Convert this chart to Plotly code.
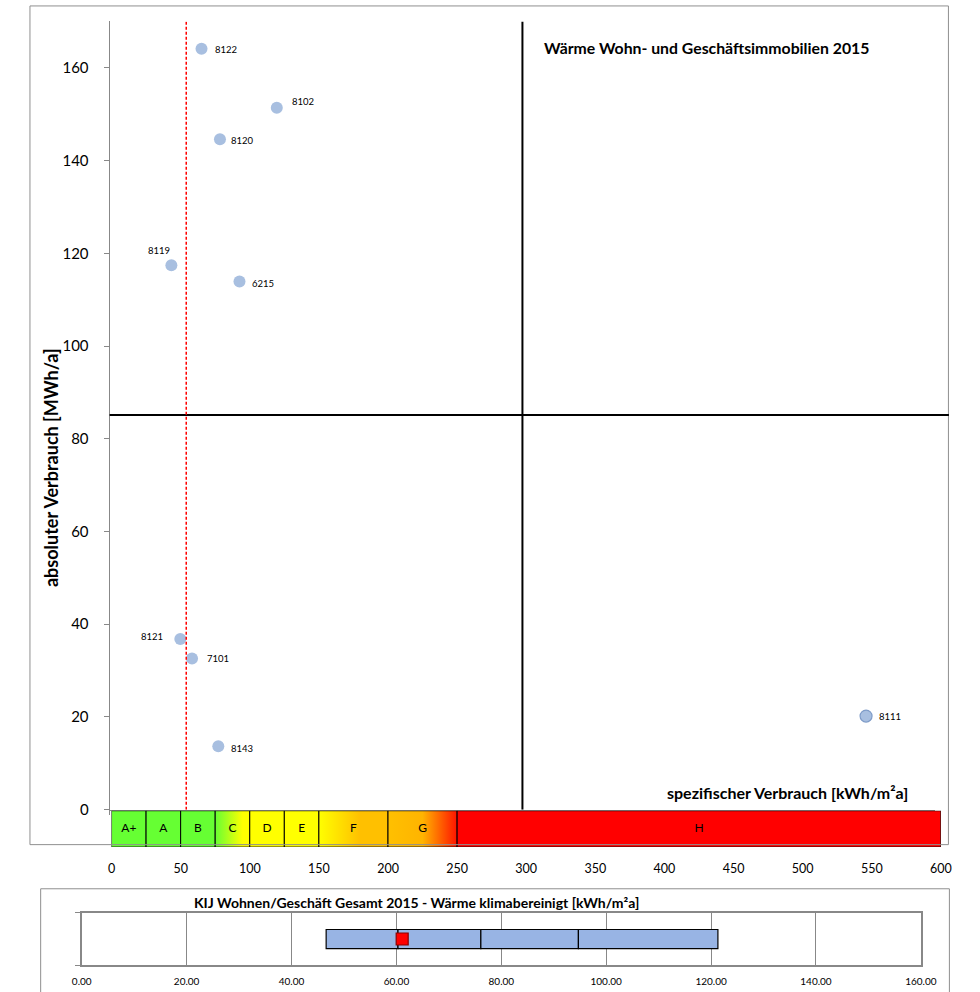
import plotly.graph_objects as go

# Gebäude: spezifischer Verbrauch [kWh/m²a] und absoluter Verbrauch [MWh/a]
ids = ["8122", "8102", "8120", "8119", "6215", "8121", "7101", "8143", "8111"]
spez_verbrauch = [66.8, 121.5, 80.2, 44.9, 94.4, 51.4, 59.9, 79.0, 549.7]
abs_verbrauch = [164.1, 151.4, 144.6, 117.4, 113.9, 36.8, 32.6, 13.7, 20.2]

# Referenzlinien
mittel_spez = 55.7        # rote gestrichelte Linie
grenze_spez = 300         # senkrechte Quadrantenlinie
grenze_abs = 85.1         # waagrechte Quadrantenlinie

# Energieeffizienzklassen
klassen = ["A+", "A", "B", "C", "D", "E", "F", "G", "H"]
klassen_grenzen = [0, 25, 50, 75, 100, 125, 150, 200, 250, 600]

# Kennwerte KIJ Wohnen/Geschäft Gesamt 2015 (Min, Q1, Median, Q3, Max)
kij_kennwerte = [46.6, 60.3, 76.1, 94.7, 121.3]
kij_wert = 61.1

x_ticks = list(range(0, 601, 50))
y_ticks = list(range(0, 161, 20))
kij_ticks = list(range(0, 161, 20))

FONT = "Lato"
W, H = 980, 992


def px_x(p):
    return p / W


def px_y(p):
    return (H - p) / H


# label offsets (pixels) relative to each marker
label_dx = [24, 26, 23, -12, 24, -28, 26, 24, 24]
label_dy = [-1, 6, -1, 15, -2, 3, 0, -2, 0]

fig = go.Figure()

# Klassenband
band_fill = {
    "A+": "#66ff33", "A": "#66ff33", "B": "#66ff33",
    "D": "#ffff00", "E": "#ffff00", "H": "#ff0000",
}
band_grad = {
    "C": [[0, "#66ff33"], [0.8, "#ffff00"], [1, "#ffff00"]],
    "F": [[0, "#ffff00"], [0.6, "#ffc000"], [1, "#ffc000"]],
    "G": [[0, "#ffc000"], [0.5, "#ffb400"], [1, "#ff1400"]],
}
for k, x0, x1 in zip(klassen, klassen_grenzen[:-1], klassen_grenzen[1:]):
    tr = dict(
        x=[x0, x1, x1, x0, x0], y=[0, 0, 1, 1, 0],
        mode="lines", fill="toself",
        line=dict(color="black", width=1),
        xaxis="x2", yaxis="y2", showlegend=False, hoverinfo="skip",
    )
    if k in band_grad:
        tr["fillgradient"] = dict(type="horizontal", colorscale=band_grad[k])
    else:
        tr["fillcolor"] = band_fill[k]
    fig.add_trace(go.Scatter(**tr))

fig.add_trace(go.Scatter(
    x=[(a + b) / 2 for a, b in zip(klassen_grenzen[:-1], klassen_grenzen[1:])],
    y=[0.5] * len(klassen), text=klassen, mode="text",
    textfont=dict(family=FONT, size=12, color="black"),
    xaxis="x2", yaxis="y2", showlegend=False, hoverinfo="skip",
))

# Streudiagramm
line_w = [0] * (len(ids) - 1) + [1.2]
fig.add_trace(go.Scatter(
    x=spez_verbrauch, y=abs_verbrauch, mode="markers",
    marker=dict(size=12, color="#a8bfe0",
                line=dict(color="#7f9cc8", width=line_w)),
    xaxis="x", yaxis="y", showlegend=False,
))

# KIJ-Boxdiagramm
fig.add_trace(go.Bar(
    x=[b - a for a, b in zip(kij_kennwerte[:-1], kij_kennwerte[1:])],
    base=kij_kennwerte[:-1], y=[0] * 4, orientation="h", width=0.36,
    marker=dict(color="#98b4e4", line=dict(color="black", width=1.2)),
    xaxis="x3", yaxis="y3", showlegend=False,
))
fig.add_trace(go.Scatter(
    x=[kij_wert], y=[0], mode="markers",
    marker=dict(symbol="square", size=12, color="#ff0000",
                line=dict(color="#8b0000", width=1.2)),
    xaxis="x3", yaxis="y3", showlegend=False,
))

annotations = []
for i, x, y, dx, dy in zip(ids, spez_verbrauch, abs_verbrauch, label_dx, label_dy):
    annotations.append(dict(
        x=x, y=y, xref="x", yref="y", text=i, showarrow=False,
        xshift=dx, yshift=dy, font=dict(family=FONT, size=9.5, color="black"),
    ))

annotations += [
    dict(x=px_x(547), y=px_y(48), xref="paper", yref="paper",
         xanchor="left", yanchor="middle", showarrow=False,
         text="<b>Wärme Wohn- und Geschäftsimmobilien 2015</b>",
         font=dict(family=FONT, size=15.8, color="black")),
    dict(x=px_x(925), y=px_y(799), xref="paper", yref="paper",
         xanchor="right", yanchor="middle", showarrow=False,
         text="<b>spezifischer Verbrauch [kWh/m²a]</b>",
         font=dict(family=FONT, size=16, color="black")),
    dict(x=px_x(42), y=px_y(471), xref="paper", yref="paper",
         xanchor="center", yanchor="middle", showarrow=False, textangle=-90,
         text="<b>absoluter Verbrauch [MWh/a]</b>",
         font=dict(family=FONT, size=18, color="black")),
    dict(x=px_x(418), y=px_y(910), xref="paper", yref="paper",
         xanchor="center", yanchor="middle", showarrow=False,
         text="<b>KIJ Wohnen/Geschäft Gesamt 2015 - Wärme klimabereinigt [kWh/m²a]</b>",
         font=dict(family=FONT, size=14, color="black")),
]

shapes = [
    # Rahmen
    dict(type="rect", xref="paper", yref="paper",
         x0=px_x(20.5), x1=px_x(964), y0=px_y(851.5), y1=px_y(6),
         line=dict(color="#8f8f8f", width=1)),
    dict(type="rect", xref="paper", yref="paper",
         x0=px_x(31.5), x1=px_x(965), y0=px_y(1010), y1=px_y(896),
         line=dict(color="#8f8f8f", width=1)),
    # Quadrantenlinien
    dict(type="line", xref="x", yref="y", x0=grenze_spez, x1=grenze_spez,
         y0=0, y1=170, line=dict(color="black", width=2)),
    dict(type="line", xref="x domain", yref="y", x0=0, x1=1.0165,
         y0=grenze_abs, y1=grenze_abs, line=dict(color="black", width=2)),
    # Mittelwert
    dict(type="line", xref="x", yref="y", x0=mittel_spez, x1=mittel_spez,
         y0=0, y1=170, line=dict(color="#ff0000", width=1.5, dash="3px,2px")),
]

grey = "#888888"
fig.update_layout(
    width=W, height=H, margin=dict(l=0, r=0, t=0, b=0),
    paper_bgcolor="white", plot_bgcolor="white",
    font=dict(family=FONT, color="black"),
    barmode="overlay",
    annotations=annotations, shapes=shapes,
    xaxis=dict(domain=[px_x(102.3), px_x(950.5)], range=[0, 600],
               tickvals=x_ticks, showticklabels=False,
               ticks="outside", ticklen=4, tickcolor=grey,
               showline=True, linecolor=grey, linewidth=1,
               showgrid=False, zeroline=False, anchor="y"),
    xaxis4=dict(domain=[px_x(102.3), px_x(950.5)], range=[0, 600],
                overlaying="x", anchor="y", tickvals=x_ticks,
                showticklabels=False, ticks="inside", ticklen=4,
                tickcolor=grey, showline=False, showgrid=False,
                zeroline=False),
    yaxis=dict(domain=[px_y(816.3), px_y(21.6)], range=[0, 170],
               tickvals=y_ticks, ticks="outside", ticklen=5, tickcolor=grey,
               ticklabelstandoff=12,
               tickfont=dict(family=FONT, size=15, color="black"),
               showline=True, linecolor=grey, linewidth=1,
               showgrid=False, zeroline=False, anchor="x"),
    yaxis4=dict(domain=[px_y(816.3), px_y(21.6)], range=[0, 170],
                overlaying="y", anchor="x", tickvals=y_ticks,
                showticklabels=False, ticks="inside", ticklen=5,
                tickcolor=grey, showline=False, showgrid=False,
                zeroline=False),
    xaxis2=dict(domain=[px_x(104.3), px_x(956.3)], range=[0, 600],
                tickvals=x_ticks, ticks="", ticklabelstandoff=12,
                tickfont=dict(family=FONT, size=12.5, color="black"),
                showline=False, showgrid=False, zeroline=False, anchor="y2"),
    yaxis2=dict(domain=[px_y(854), px_y(817.3)], range=[0, 1],
                visible=False, anchor="x2"),
    xaxis3=dict(domain=[px_x(73.7), px_x(935.7)], range=[0, 160],
                tickvals=kij_ticks, tickformat=".2f", ticks="",
                ticklabelstandoff=6,
                tickfont=dict(family=FONT, size=10, color="black"),
                showline=True, mirror=True, linecolor=grey, linewidth=1.5,
                showgrid=True, gridcolor=grey, gridwidth=1,
                zeroline=False, anchor="y3"),
    yaxis3=dict(domain=[px_y(973.3), px_y(920)], range=[-0.5, 0.5],
                tickvals=[-0.5, 0.5], showticklabels=False,
                ticks="outside", ticklen=5, tickcolor=grey,
                showline=True, mirror=True, linecolor=grey, linewidth=1.5,
                showgrid=False, zeroline=False, anchor="x3"),
)

fig.write_html("out.html")
